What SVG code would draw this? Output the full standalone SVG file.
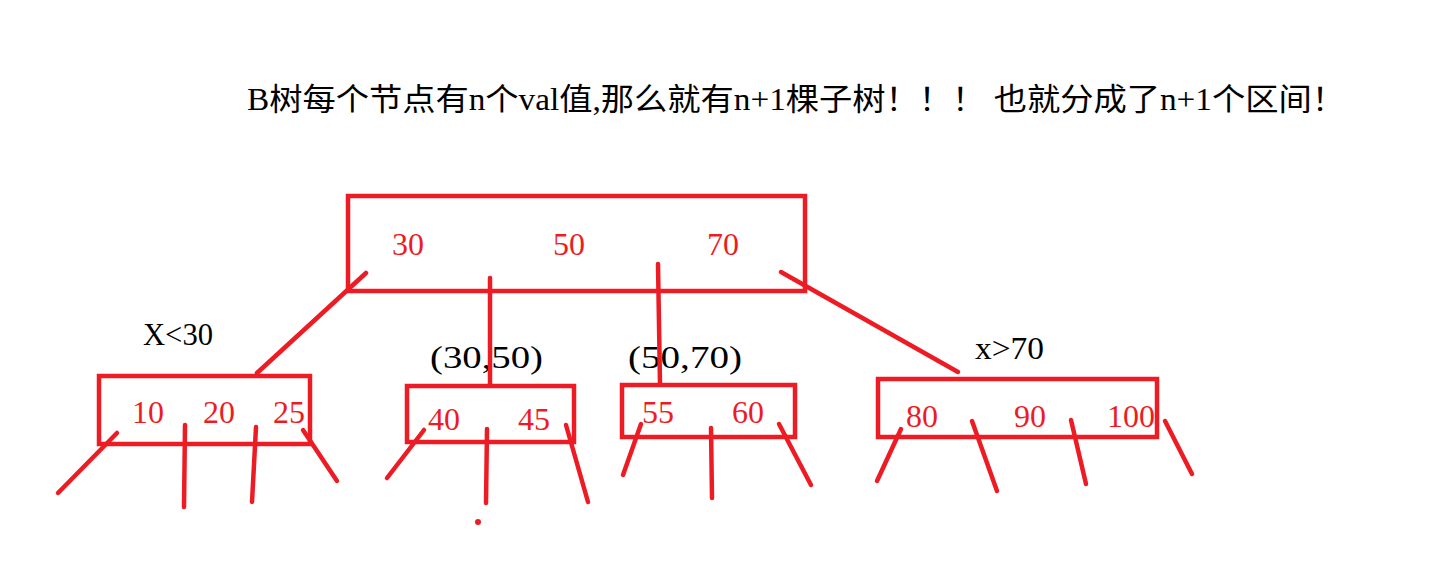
<svg xmlns="http://www.w3.org/2000/svg" width="1432" height="567" viewBox="0 0 1432 567">
<style>
.box{fill:none;stroke:#ED1C24;stroke-width:4.5}
.val{fill:#ED1C24;font-family:"Liberation Serif","Noto Sans CJK SC",serif;font-size:32px}
.lbl{fill:#000;font-family:"Liberation Serif","Noto Sans CJK SC",serif;font-size:31px}
.title{fill:#000;font-family:"Liberation Serif","Noto Sans CJK SC",serif;font-size:31px}
.ln{stroke:#ED1C24;stroke-width:4.5;stroke-linecap:round;fill:none}
</style>
<rect width="1432" height="567" fill="#fff"/>
<g id="title">
<text class="title" x="247" y="110" textLength="1098" lengthAdjust="spacingAndGlyphs">B树每个节点有n个val值,那么就有n+1棵子树！！！ 也就分成了n+1个区间！</text>
</g>
<g id="root">
<rect class="box" x="348" y="196" width="457" height="95"/>
<text class="val" x="392" y="255">30</text>
<text class="val" x="553" y="255">50</text>
<text class="val" x="707" y="255">70</text>
</g>
<g id="n1">
<rect class="box" x="99" y="376" width="211" height="68"/>
<text class="val" x="132" y="423">10</text>
<text class="val" x="203" y="423">20</text>
<text class="val" x="273" y="423">25</text>
<text class="lbl" x="143" y="345" textLength="70" lengthAdjust="spacingAndGlyphs">X&lt;30</text>
</g>
<g id="n2">
<rect class="box" x="407" y="386" width="167" height="56"/>
<text class="val" x="428" y="430">40</text>
<text class="val" x="518" y="430">45</text>
<text class="lbl" x="430" y="368" textLength="113" lengthAdjust="spacingAndGlyphs">(30,50)</text>
</g>
<g id="n3">
<rect class="box" x="622" y="385" width="173" height="52"/>
<text class="val" x="642" y="423">55</text>
<text class="val" x="732" y="423">60</text>
<text class="lbl" x="628" y="368" textLength="114" lengthAdjust="spacingAndGlyphs">(50,70)</text>
</g>
<g id="n4">
<rect class="box" x="878" y="379" width="279" height="58"/>
<text class="val" x="906" y="427">80</text>
<text class="val" x="1014" y="427">90</text>
<text class="val" x="1107" y="427">100</text>
<text class="lbl" x="975" y="359" textLength="69" lengthAdjust="spacingAndGlyphs">x&gt;70</text>
</g>
<g id="connectors">
<line class="ln" x1="366" y1="273" x2="257" y2="373"/>
<line class="ln" x1="490" y1="278" x2="490" y2="384"/>
<line class="ln" x1="658" y1="264" x2="660" y2="384"/>
<line class="ln" x1="781" y1="272" x2="958" y2="372"/>
<line class="ln" x1="117" y1="433" x2="58" y2="493"/>
<line class="ln" x1="185" y1="425" x2="184" y2="507"/>
<line class="ln" x1="256" y1="427" x2="252" y2="502"/>
<line class="ln" x1="303" y1="430" x2="337" y2="481"/>
<line class="ln" x1="424" y1="430" x2="387" y2="478"/>
<line class="ln" x1="487" y1="429" x2="486" y2="503"/>
<circle cx="478" cy="522" r="3" fill="#ED1C24"/>
<line class="ln" x1="566" y1="425" x2="588" y2="502"/>
<line class="ln" x1="641" y1="424" x2="623" y2="475"/>
<line class="ln" x1="711" y1="428" x2="712" y2="498"/>
<line class="ln" x1="779" y1="424" x2="811" y2="485"/>
<line class="ln" x1="901" y1="429" x2="877" y2="481"/>
<line class="ln" x1="972" y1="421" x2="997" y2="491"/>
<line class="ln" x1="1071" y1="420" x2="1086" y2="484"/>
<line class="ln" x1="1165" y1="421" x2="1192" y2="474"/>
</g>
</svg>
